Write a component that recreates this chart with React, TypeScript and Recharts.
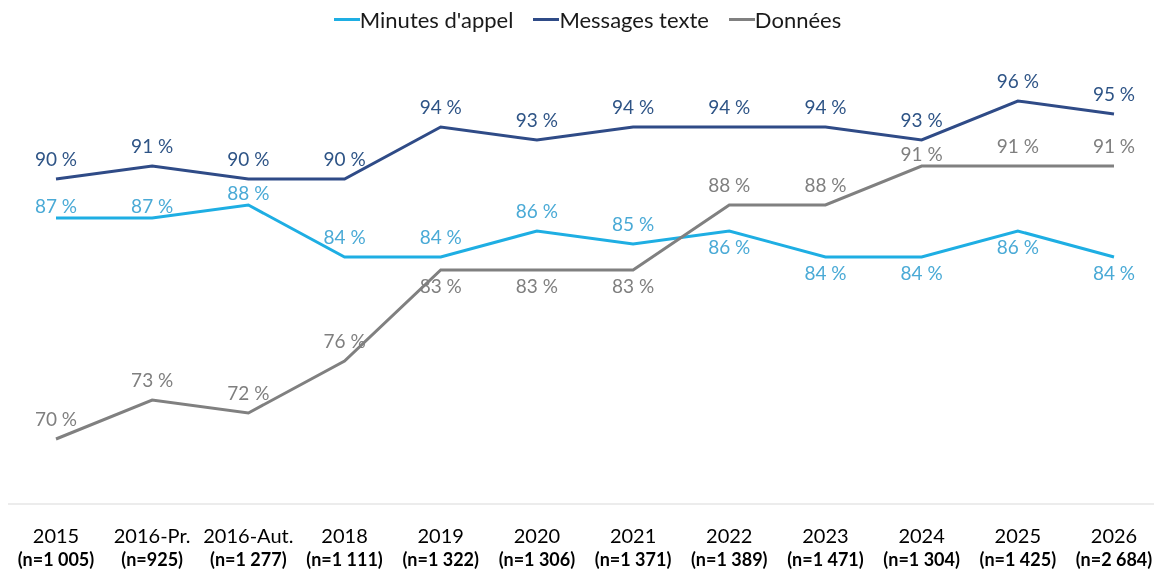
import { LineChart, Line, XAxis, YAxis, Legend, LabelList } from 'recharts'

const years = ['2015', '2016-Pr.', '2016-Aut.', '2018', '2019', '2020', '2021', '2022', '2023', '2024', '2025', '2026']
const sampleSizes = ['(n=1 005)', '(n=925)', '(n=1 277)', '(n=1 111)', '(n=1 322)', '(n=1 306)', '(n=1 371)', '(n=1 389)', '(n=1 471)', '(n=1 304)', '(n=1 425)', '(n=2 684)']

const minutes = [87, 87, 88, 84, 84, 86, 85, 86, 84, 84, 86, 84]
const messages = [90, 91, 90, 90, 94, 93, 94, 94, 94, 93, 96, 95]
const donnees = [70, 73, 72, 76, 83, 83, 83, 88, 88, 91, 91, 91]

// where each value label sits relative to its point
const minutesPlace = ['near', 'near', 'near', 'top', 'top', 'top', 'top', 'bottom', 'bottom', 'bottom', 'bottom', 'bottom']
const messagesPlace = ['top', 'top', 'top', 'top', 'top', 'top', 'top', 'top', 'top', 'top', 'top', 'top']
const donneesPlace = ['top', 'top', 'top', 'top', 'bottom', 'bottom', 'bottom', 'top', 'top', 'near', 'top', 'top']

const series = [
  { key: 'minutes', name: "Minutes d'appel", color: '#1eaee3', labelColor: '#4aaad6', places: minutesPlace },
  { key: 'messages', name: 'Messages texte', color: '#2f4b87', labelColor: '#2e5486', places: messagesPlace },
  { key: 'donnees', name: 'Données', color: '#808080', labelColor: '#7f7f7f', places: donneesPlace },
]

const FONT = 'Lato, Carlito, Calibri, sans-serif'

const data = years.map((y, i) => ({
  year: y,
  minutes: minutes[i],
  messages: messages[i],
  donnees: donnees[i],
}))

function makeLabel(places: string[], color: string) {
  return (props: any) => {
    const { x, y, value, index } = props
    const place = places[index]
    const dy = place === 'bottom' ? 15 : place === 'near' ? -13 : -21
    return (
      <text
        x={x}
        y={y + dy}
        textAnchor="middle"
        dominantBaseline="central"
        fill={color}
        fontSize={19}
        fontFamily={FONT}
      >
        {value} %
      </text>
    )
  }
}

function YearTick({ x, y, payload, index }: any) {
  return (
    <g>
      <text x={x} y={y + 31} textAnchor="middle" fontSize={20} fill="#000" fontFamily={FONT}>
        {payload.value}
      </text>
      <text x={x} y={y + 54} textAnchor="middle" fontSize={18} fontWeight="bold" fill="#000" fontFamily={FONT}>
        {sampleSizes[index]}
      </text>
    </g>
  )
}

function TopLegend() {
  return (
    <div
      style={{
        display: 'flex',
        justifyContent: 'center',
        alignItems: 'center',
        gap: 20,
        height: 26,
        paddingLeft: 13,
        fontSize: 22,
        color: '#1a1a1a',
        fontFamily: FONT,
      }}
    >
      {series.map((s) => (
        <div key={s.key} style={{ display: 'flex', alignItems: 'center' }}>
          <span style={{ display: 'inline-block', width: 26, height: 3, background: s.color }} />
          <span>{s.name}</span>
        </div>
      ))}
    </div>
  )
}

export default function App() {
  return (
    <div style={{ fontFamily: FONT, position: 'fixed', top: 8, left: 8 }}>
      <LineChart width={1146} height={563} data={data} margin={{ top: 15, right: 0, bottom: 0, left: 0 }}>
        <XAxis
          dataKey="year"
          axisLine={{ stroke: '#d9d9d9' }}
          tickLine={false}
          height={67}
          interval={0}
          padding={{ left: 48, right: 40 }}
          tick={<YearTick />}
        />
        <YAxis hide domain={[65, 100]} />
        <Legend verticalAlign="top" content={<TopLegend />} wrapperStyle={{ top: -2 }} />
        {series.map((s) => (
          <Line
            key={s.key}
            name={s.name}
            dataKey={s.key}
            stroke={s.color}
            strokeWidth={3}
            dot={false}
            isAnimationActive={false}
          >
            <LabelList dataKey={s.key} content={makeLabel(s.places, s.labelColor)} />
          </Line>
        ))}
      </LineChart>
    </div>
  )
}
